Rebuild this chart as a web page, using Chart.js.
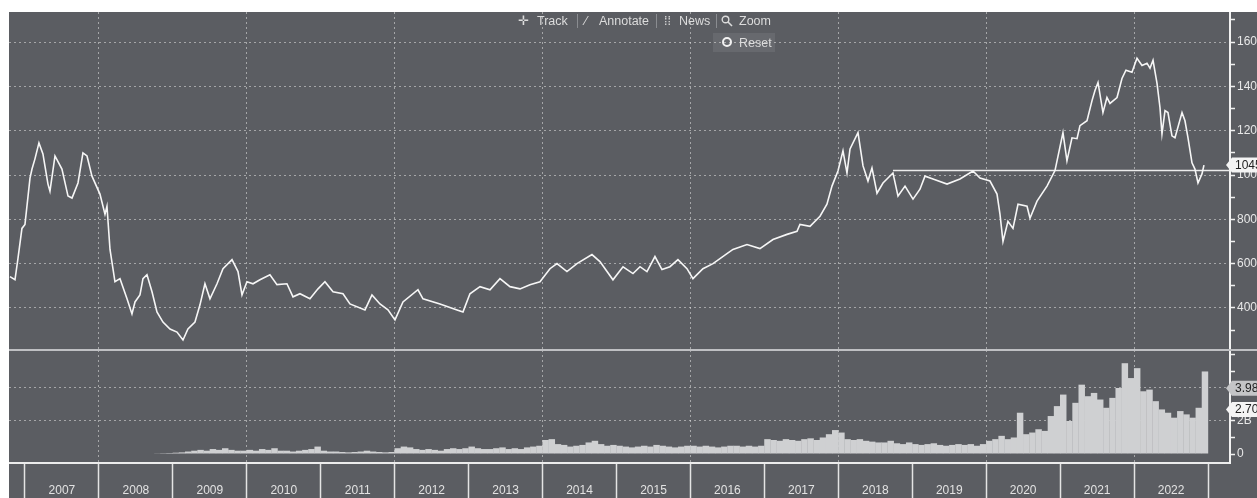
<!DOCTYPE html>
<html><head><meta charset="utf-8">
<script src="https://cdn.jsdelivr.net/npm/chart.js@4"></script>
<style>
html,body{margin:0;padding:0;background:#fff;width:1257px;height:498px;overflow:hidden;font-family:"Liberation Sans",Arial,sans-serif;}
#frame{position:absolute;left:9px;top:12px;width:1248px;height:486px;background:#5b5d62;}
#top{position:absolute;left:9px;top:12px;width:1248px;height:338px;}
#bot{position:absolute;left:9px;top:350px;width:1248px;height:148px;}
#divider{position:absolute;left:9px;top:349px;width:1248px;height:2px;background:#bfc0c3;z-index:5;}
.t{position:absolute;color:#dcdcdc;font-size:12.5px;line-height:14px;z-index:6;white-space:nowrap;}
.sep{position:absolute;top:14px;width:1px;height:14px;background:#8a8c90;z-index:6;}
#reset{position:absolute;left:713px;top:33px;width:62px;height:19px;background:rgba(255,255,255,0.08);z-index:5;}
#ring{position:absolute;left:722px;top:37px;width:6px;height:6px;border:2.5px solid #f2f2f2;border-radius:50%;z-index:6;}
</style></head>
<body>
<div id="frame"></div>
<div id="top"><canvas id="c1"></canvas></div>
<div id="bot"><canvas id="c2"></canvas></div>
<div id="divider"></div>
<span class="t" style="left:518px;top:14px;">✛</span><span class="t" style="left:537px;top:14px;">Track</span>
<div class="sep" style="left:577px"></div>
<span class="t" style="left:585px;top:14px;">⁄</span><span class="t" style="left:599px;top:14px;">Annotate</span>
<div class="sep" style="left:656px"></div>
<span class="t" style="left:664px;top:14px;">⁞⁞</span><span class="t" style="left:679px;top:14px;">News</span>
<div class="sep" style="left:716px"></div>
<svg style="position:absolute;left:721px;top:15px;z-index:6" width="12" height="12"><circle cx="4.5" cy="4.5" r="3.3" stroke="#dcdcdc" stroke-width="1.4" fill="none"/><line x1="7" y1="7" x2="11" y2="11" stroke="#dcdcdc" stroke-width="1.6"/></svg>
<span class="t" style="left:739px;top:14px;">Zoom</span>
<div id="reset"></div><div id="ring"></div>
<span class="t" style="left:739px;top:36px;">Reset</span>
<script>
// ---------- data ----------
const xMin = 2006.784, xMax = 2023.297;
const priceYears = [2006.797,2006.865,2006.905,2006.959,2007.000,2007.068,2007.095,2007.135,2007.189,2007.243,2007.311,2007.338,2007.406,2007.500,2007.582,2007.636,2007.717,2007.784,2007.839,2007.906,2008.014,2008.082,2008.109,2008.150,2008.217,2008.285,2008.380,2008.447,2008.488,2008.555,2008.596,2008.650,2008.718,2008.785,2008.866,2008.961,2009.056,2009.137,2009.204,2009.299,2009.367,2009.434,2009.502,2009.597,2009.678,2009.800,2009.881,2009.935,2010.002,2010.084,2010.178,2010.313,2010.408,2010.543,2010.625,2010.719,2010.854,2010.963,2011.057,2011.166,2011.301,2011.395,2011.598,2011.693,2011.801,2011.909,2012.004,2012.112,2012.315,2012.383,2012.613,2012.843,2012.924,2013.018,2013.154,2013.289,2013.424,2013.559,2013.695,2013.830,2013.965,2014.100,2014.195,2014.330,2014.465,2014.668,2014.776,2014.952,2015.088,2015.223,2015.318,2015.412,2015.520,2015.615,2015.723,2015.831,2015.953,2016.034,2016.169,2016.305,2016.494,2016.575,2016.765,2016.940,2017.116,2017.306,2017.441,2017.481,2017.617,2017.752,2017.846,2017.914,2017.995,2018.063,2018.117,2018.158,2018.266,2018.334,2018.401,2018.455,2018.523,2018.604,2018.739,2018.807,2018.902,2019.010,2019.104,2019.172,2019.280,2019.470,2019.645,2019.821,2019.916,2020.051,2020.146,2020.186,2020.227,2020.294,2020.362,2020.430,2020.552,2020.592,2020.687,2020.822,2020.930,2021.038,2021.092,2021.160,2021.228,2021.268,2021.363,2021.431,2021.471,2021.512,2021.579,2021.633,2021.674,2021.769,2021.836,2021.890,2021.971,2022.039,2022.107,2022.174,2022.215,2022.256,2022.310,2022.350,2022.377,2022.418,2022.458,2022.512,2022.553,2022.648,2022.688,2022.729,2022.783,2022.823,2022.864,2022.918,2022.945];
const priceValues = [541,527,623,759,777,986,1027,1073,1145,1095,959,927,1086,1027,905,896,964,1100,1086,995,914,823,859,664,518,532,441,373,427,459,532,550,473,382,336,305,291,255,305,336,414,509,441,509,577,618,564,459,518,509,527,550,505,509,450,464,441,486,518,473,464,418,391,459,418,391,346,427,482,441,418,391,382,464,496,482,532,496,486,505,518,577,600,564,600,641,609,527,586,555,586,564,632,573,586,618,577,532,577,600,645,664,686,668,709,732,746,777,768,814,868,950,1018,1109,1009,1118,1191,1041,973,1032,918,964,1009,905,950,891,936,995,982,959,982,1018,986,973,914,823,700,791,759,868,859,805,882,950,1020,1191,1064,1168,1164,1223,1245,1336,1382,1418,1282,1350,1323,1350,1436,1473,1464,1527,1495,1505,1482,1518,1414,1305,1186,1291,1282,1177,1168,1282,1245,1168,1055,1027,964,1005,1045];
const refLineYears = [2018.739, 2023.297];
const refLineValue = 1020;
const lastPrice = 1045;

const volumeStartYear = 2008, volumeStartMonth = 9; // Oct 2008
const volumeValues = [
 0.04,0.05,0.06,
 0.08,0.10,0.15,0.20,0.25,0.20,0.30,0.25,0.35,0.25,0.20,0.20,
 0.25,0.20,0.30,0.25,0.35,0.20,0.20,0.15,0.20,0.25,0.30,0.45,
 0.20,0.15,0.15,0.12,0.10,0.12,0.15,0.20,0.15,0.12,0.10,0.12,
 0.35,0.45,0.40,0.30,0.25,0.30,0.25,0.20,0.30,0.35,0.30,0.35,
 0.45,0.35,0.30,0.30,0.35,0.40,0.30,0.35,0.30,0.40,0.45,0.50,
 0.85,0.90,0.60,0.55,0.45,0.50,0.55,0.70,0.80,0.60,0.50,0.55,
 0.50,0.45,0.40,0.45,0.50,0.45,0.55,0.50,0.45,0.40,0.45,0.50,
 0.50,0.45,0.50,0.45,0.40,0.45,0.50,0.50,0.45,0.50,0.45,0.50,
 0.90,0.85,0.80,0.90,0.85,0.80,0.90,0.95,0.85,1.00,1.20,1.45,
 1.30,0.90,0.85,0.90,0.80,0.75,0.70,0.70,0.80,0.65,0.60,0.70,
 0.60,0.55,0.60,0.65,0.55,0.50,0.55,0.60,0.55,0.60,0.50,0.60,
 0.80,0.90,1.10,0.90,1.00,2.50,1.20,1.30,1.50,1.40,2.30,2.90,
 3.60,2.00,3.10,4.20,3.50,3.70,3.30,2.80,3.40,4.00,5.50,4.60,
 5.20,3.80,3.90,3.20,2.70,2.50,2.20,2.60,2.40,2.20,2.80,5.00];
const lastVolumeLabel = 3.98, avgVolumeLabel = 2.70;

const yearLabels = ['2007','2008','2009','2010','2011','2012','2013','2014','2015','2016','2017','2018','2019','2020','2021','2022'];
const gridYears = [2008,2010,2012,2014,2016,2018,2020,2022];
const priceTicks = [300,400,500,600,700,800,900,1000,1100,1200,1300,1400,1500,1600,1700];
const priceLabelled = [400,600,800,1000,1200,1400,1600];
const volumeTicks = [0,1,2,3,4,5,6];
const volumeTickLabels = {0:'0',2:'2B',4:'4B'};

// ---------- helpers ----------
const FONT = '"Liberation Sans", Arial, sans-serif';
Chart.defaults.font.family = FONT;
Chart.defaults.color = '#e6e6e6';
const DOT = 'rgba(225,225,225,0.55)';
const CLEAR = 'rgba(0,0,0,0)';
const volMonth = i => {
  const m = volumeStartMonth + i;
  return volumeStartYear + Math.floor(m/12) + ((m%12) + 0.5)/12;
};

function drawTag(ctx, xTip, y, text, bg, fg){
  const h = 15, bx = xTip + 6;
  ctx.save();
  ctx.fillStyle = bg;
  ctx.beginPath();
  ctx.moveTo(xTip, y);
  ctx.lineTo(bx, y - h/2);
  ctx.lineTo(bx + 60, y - h/2);
  ctx.lineTo(bx + 60, y + h/2);
  ctx.lineTo(bx, y + h/2);
  ctx.closePath();
  ctx.fill();
  ctx.fillStyle = fg;
  ctx.font = '12px ' + FONT;
  ctx.textBaseline = 'middle';
  ctx.textAlign = 'left';
  ctx.fillText(text, bx + 3, y + 0.5);
  ctx.restore();
}
const tagPlugin = {
  id: 'tags',
  afterDraw(chart, args, opts){
    const ys = chart.scales.y;
    (opts.items || []).forEach(t => {
      drawTag(chart.ctx, chart.chartArea.right - 4, ys.getPixelForValue(t.value), t.text, t.bg, t.fg);
    });
  }
};
const noPad = s => { s.paddingTop = 0; s.paddingBottom = 0; s.paddingLeft = 0; s.paddingRight = 0; };
const gridXAxis = {
  type: 'linear', min: xMin, max: xMax, position: 'bottom', offset: false,
  display: true,
  ticks: { display: false },
  grid: { drawTicks: false, offset: false, color: DOT, lineWidth: 1 },
  border: { display: false, dash: [2, 3] },
  afterBuildTicks: s => { s.ticks = gridYears.map(v => ({ value: v })); },
  afterFit: s => { s.height = 0; noPad(s); }
};

// ---------- price chart ----------
new Chart(document.getElementById('c1'), {
  type: 'line',
  data: { datasets: [
    { data: priceYears.map((t, i) => ({ x: t, y: priceValues[i] })), borderColor: '#f6f6f6', borderWidth: 1.6, pointRadius: 0, tension: 0 },
    { data: refLineYears.map(t => ({ x: t, y: refLineValue })), borderColor: '#ececec', borderWidth: 1.5, pointRadius: 0 }
  ]},
  options: {
    responsive: true, maintainAspectRatio: false, animation: false,
    layout: { padding: 0 },
    plugins: { legend: { display: false }, tooltip: { enabled: false },
      tags: { items: [{ value: lastPrice, text: String(lastPrice), bg: '#f4f4f4', fg: '#222' }] } },
    scales: {
      x: gridXAxis,
      y: {
        position: 'right', min: 210, max: 1736,
        afterBuildTicks: s => { s.ticks = priceTicks.map(v => ({ value: v })); },
        afterFit: s => { s.width = 27; noPad(s); },
        ticks: { color: '#e8e8e8', font: { size: 12 }, padding: 2, autoSkip: false,
          callback: v => priceLabelled.includes(v) ? String(v) : '' },
        grid: { color: c => (c.tick && priceLabelled.includes(c.tick.value)) ? DOT : CLEAR,
          tickColor: '#f0f0f0', tickLength: 5, tickWidth: 1.5 },
        border: { display: true, color: '#f2f2f2', width: 2, dash: [2, 3] }
      }
    }
  },
  plugins: [tagPlugin]
});

// ---------- volume chart ----------
new Chart(document.getElementById('c2'), {
  type: 'bar',
  data: { datasets: [
    { data: volumeValues.map((v, i) => ({ x: volMonth(i), y: v })), backgroundColor: '#cfd0d2', borderWidth: 0, barPercentage: 1.05, categoryPercentage: 1 }
  ]},
  options: {
    responsive: true, maintainAspectRatio: false, animation: false,
    layout: { padding: 0 },
    plugins: { legend: { display: false }, tooltip: { enabled: false },
      tags: { items: [
        { value: lastVolumeLabel, text: lastVolumeLabel.toFixed(2) + 'B', bg: '#c4c5c7', fg: '#222' },
        { value: avgVolumeLabel, text: avgVolumeLabel.toFixed(2) + 'B', bg: '#f4f4f4', fg: '#222' }
      ] } },
    scales: {
      x: {
        type: 'linear', min: xMin, max: xMax, position: 'bottom', offset: false,
        afterBuildTicks: s => { s.ticks = yearLabels.map(y => ({ value: Number(y) + 0.5 })); },
        afterFit: s => { s.height = 35; noPad(s); },
        ticks: { color: '#e2e2e2', font: { size: 12 }, padding: -15, maxRotation: 0, autoSkip: false,
          callback: v => String(Math.floor(v)) },
        grid: { offset: true, drawOnChartArea: false, drawTicks: true, tickLength: 35, tickColor: '#e4e4e4', tickWidth: 1.5, color: '#e4e4e4' },
        border: { display: true, color: '#ececec', width: 2 }
      },
      xg: gridXAxis,
      y: {
        position: 'right', min: -0.545, max: 6.30, beginAtZero: false,
        afterBuildTicks: s => { s.ticks = volumeTicks.map(v => ({ value: v })); },
        afterFit: s => { s.width = 27; noPad(s); },
        ticks: { color: '#e8e8e8', font: { size: 12 }, padding: 2, autoSkip: false,
          callback: v => volumeTickLabels[v] || '' },
        grid: { color: c => (c.tick && (c.tick.value === 2 || c.tick.value === 4)) ? DOT : CLEAR,
          tickColor: '#f0f0f0', tickLength: 5, tickWidth: 1.5 },
        border: { display: true, color: '#f2f2f2', width: 2, dash: [2, 3] }
      }
    }
  },
  plugins: [tagPlugin]
});
</script>
</body></html>
